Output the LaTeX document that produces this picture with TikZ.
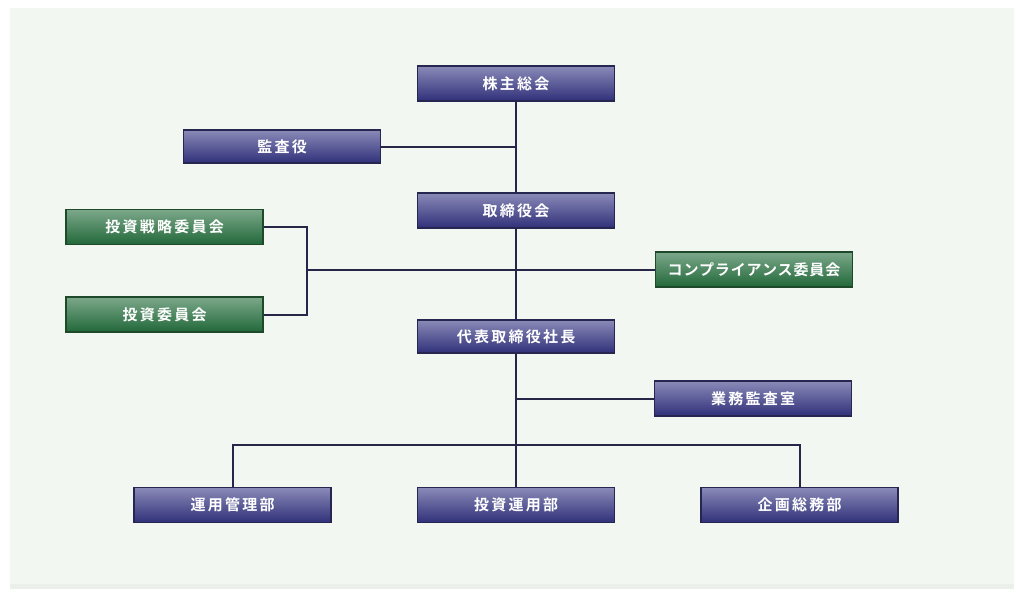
\documentclass[tikz,border=0pt]{standalone}
\usepackage{fontspec}
\newfontfamily\cjk[LetterSpace=15]{Noto Sans CJK JP Bold}
\newfontfamily\cjknarrow[LetterSpace=6]{Noto Sans CJK JP Bold}
\definecolor{bgpanel}{HTML}{F2F7F1}
\definecolor{bluetop}{HTML}{8A8AB8}
\definecolor{bluebot}{HTML}{30307A}
\definecolor{blueedge}{HTML}{262650}
\definecolor{greentop}{HTML}{7CA88A}
\definecolor{greenbot}{HTML}{22683A}
\definecolor{greenedge}{HTML}{1E4A2A}
\definecolor{linec}{HTML}{262648}
\tikzset{
  bluebox/.style={draw=blueedge, line width=1.2pt, top color=bluetop, bottom color=bluebot,
    minimum width=197pt, minimum height=35pt, inner sep=0pt, text=white,
    font=\cjk\fontsize{15}{15}\selectfont},
  greenbox/.style={bluebox, draw=greenedge, top color=greentop, bottom color=greenbot},
  conn/.style={draw=linec, line width=2pt}
}
\begin{document}
\begin{tikzpicture}[x=1pt,y=-1pt]
\useasboundingbox (0,0) rectangle (1014,589);
\fill[white] (0,0) rectangle (1014,589);
\fill[bgpanel] (10,8) rectangle (1014,589);
\fill[black!3!bgpanel] (10,584) rectangle (1014,589);

\coordinate (brk) at (307,270);
\coordinate (bus) at (516,445);

\node[bluebox] (kabu) at (516,83.5) {株主総会};
\node[bluebox, minimum height=33pt] (kansa) at (282,146.5) {監査役};
\node[bluebox] (tori) at (516,210.5) {取締役会};
\node[greenbox] (senryaku) at (164.5,227) {投資戦略委員会};
\node[greenbox] (iinkai) at (164.5,314.5) {投資委員会};
\node[greenbox, font=\cjknarrow\fontsize{15}{15}\selectfont] (comp) at (754,269.5) {コンプライアンス委員会};
\node[bluebox, minimum height=33pt] (daihyo) at (516,336.5) {代表取締役社長};
\node[bluebox] (gyomu) at (753,398.5) {業務監査室};
\node[bluebox] (unkan) at (232.5,505) {運用管理部};
\node[bluebox] (toun) at (516,505) {投資運用部};
\node[bluebox] (kikaku) at (799.5,505) {企画総務部};

\draw[conn] (kabu.south) -- (tori.north);
\draw[conn] (tori.south) -- (daihyo.north);
\draw[conn] (daihyo.south) -- (toun.north);
\draw[conn] (kansa.east) -- (kansa.east -| kabu.south);
\draw[conn] (senryaku.east) -| (brk) |- (iinkai.east);
\draw[conn] (brk) -- (brk -| comp.west);
\draw[conn] (gyomu.west) -- (gyomu.west -| daihyo.south);
\draw[conn] (unkan.north) |- (bus) -| (kikaku.north);
\end{tikzpicture}
\end{document}
